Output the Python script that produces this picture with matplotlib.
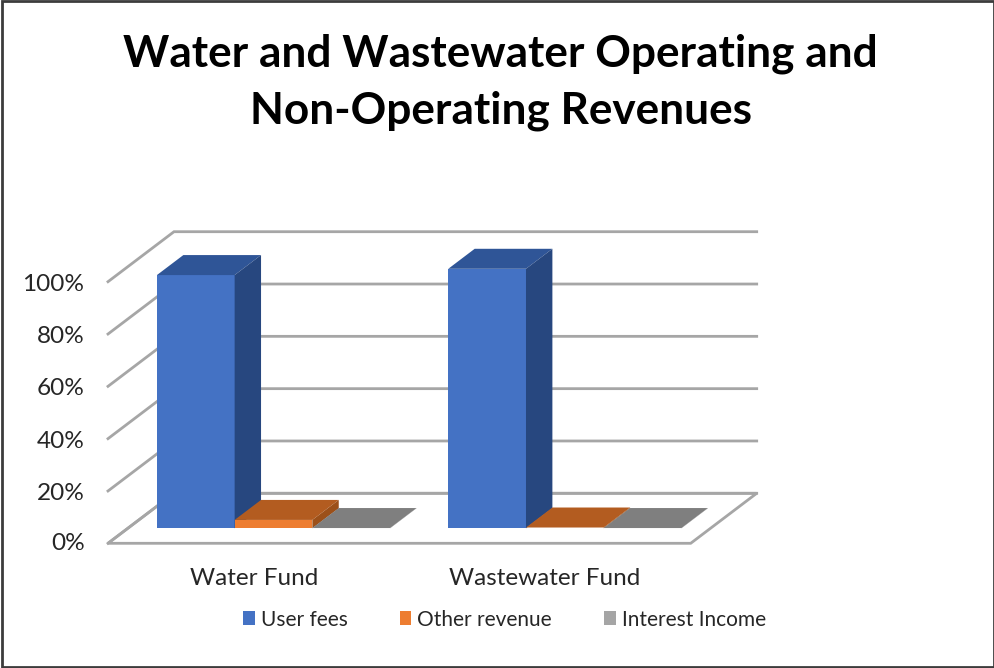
import matplotlib
matplotlib.use("Agg")
import matplotlib.pyplot as plt
from matplotlib.patches import Polygon, Patch, Rectangle

plt.rcParams['font.family'] = ['Lato', 'DejaVu Sans']

title = "Water and Wastewater Operating and\nNon-Operating Revenues"
categories = ["Water Fund", "Wastewater Fund"]
series_names = ["User fees", "Other revenue", "Interest Income"]
user_fees = [96.8, 99.2]
other_revenue = [3.2, 0.3]
interest_income = [0.1, 0.1]
y_ticks = [0, 20, 40, 60, 80, 100]

series = [user_fees, other_revenue, interest_income]
front_cols = ['#4472C4', '#ED7D31', '#A5A5A5']
top_cols = ['#2F5597', '#B35C20', '#7F7F7F']
side_cols = ['#27477F', '#9C5019', '#6E6E6E']
GRID = '#A6A6A6'

# oblique projection of the chart box into pixels
X0, Y0 = 108.0, 543.3        # front-left floor corner
CAT_W = 291.35               # pixels per category
PCT = 2.616                  # pixels per percent
DX, DY = 66.0, -50.0         # depth vector of the box


def proj(cat, pct, depth):
    return (X0 + cat * CAT_W + depth * DX, Y0 - pct * PCT + depth * DY)


fig = plt.figure(figsize=(9.95, 6.68), dpi=100)
ax = fig.add_axes([0, 0, 1, 1])
ax.set_xlim(0, 995)
ax.set_ylim(668, 0)
ax.axis('off')

# chart border
ax.add_patch(Rectangle((1.5, 1), 992.5, 666, fill=False, ec='#3C3C3C', lw=2))

# floor
ax.add_patch(Polygon([proj(0, 0, 0), proj(2, 0, 0), proj(2, 0, 1), proj(0, 0, 1)],
                     closed=True, fill=False, ec=GRID, lw=2, joinstyle='miter', zorder=1))
# gridlines on the back and left walls
for t in y_ticks:
    pts = [proj(0, t, 0), proj(0, t, 1), proj(2, t, 1)]
    ax.plot([p[0] for p in pts], [p[1] for p in pts], color=GRID, lw=2, zorder=1,
            solid_joinstyle='miter')
    ax.text(84.5, proj(0, t, 0)[1] + 2.5 if t else 544, f"{t}%", ha='right', va='center',
            fontsize=17.6, color='#262626')

# bars
BAR_W = 0.2667
MARGIN = 0.1
D0, D1 = 0.3, 0.7
for c in range(len(categories)):
    for s, vals in enumerate(series):
        v = vals[c]
        l = c + MARGIN + s * BAR_W
        r = l + BAR_W
        z = 3 + c * 3 + s
        ax.add_patch(Polygon([proj(l, 0, D0), proj(r, 0, D0), proj(r, v, D0), proj(l, v, D0)],
                             closed=True, fc=front_cols[s], ec='none', zorder=z))
        ax.add_patch(Polygon([proj(l, v, D0), proj(r, v, D0), proj(r, v, D1), proj(l, v, D1)],
                             closed=True, fc=top_cols[s], ec='none', zorder=z))
        ax.add_patch(Polygon([proj(r, 0, D0), proj(r, 0, D1), proj(r, v, D1), proj(r, v, D0)],
                             closed=True, fc=side_cols[s], ec='none', zorder=z))

# category labels
for c, name in enumerate(categories):
    ax.text(proj(c + 0.5, 0, 0)[0], 578.5, name, ha='center', va='center',
            fontsize=17.5, color='#262626')

ax.text(500.5, 82, title, ha='center', va='center', fontsize=31.8, fontweight='bold',
        color='black', linespacing=1.49)

handles = [Patch(fc=col, ec='none', label=n) for col, n in zip(front_cols, series_names)]
ax.legend(handles=handles, ncol=3, frameon=False, loc='center', bbox_to_anchor=(504.5, 619.5),
          bbox_transform=ax.transData, fontsize=15, handlelength=0.557, handleheight=0.62,
          handletextpad=0.29, columnspacing=2.5, labelcolor='#262626', borderpad=0, borderaxespad=0)

fig.savefig('out.png', dpi=100)
